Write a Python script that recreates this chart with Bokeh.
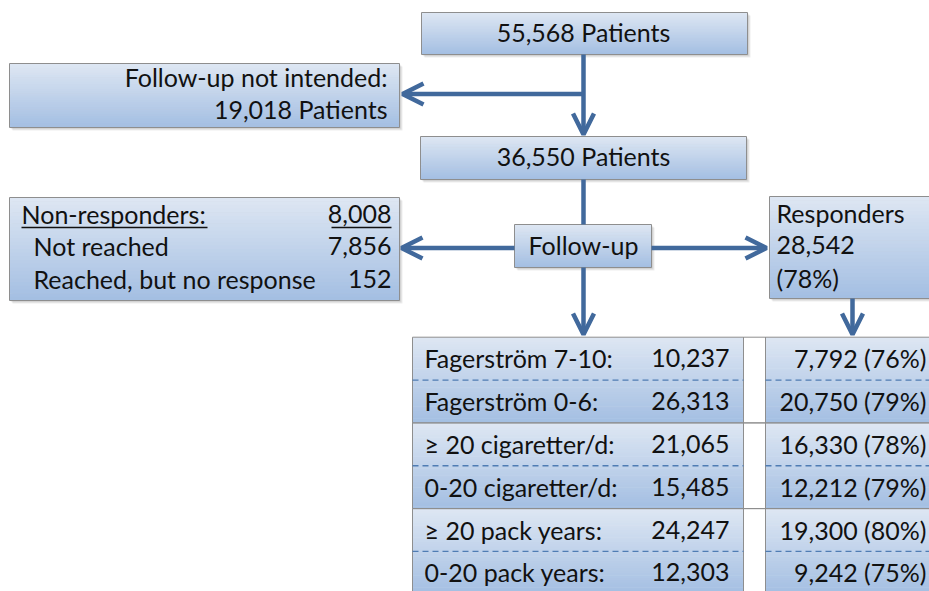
import numpy as np
from bokeh.plotting import figure
from bokeh.models import Range1d, ColumnDataSource, Arrow, OpenHead
from bokeh.core.properties import value
from bokeh.embed import file_html
from bokeh.resources import INLINE

# ---------------- data ----------------
total_patients = 55568
not_intended = 19018
followup_patients = 36550
non_responders_total = 8008
not_reached = 7856
reached_no_response = 152
responders_total = 28542
responders_pct = 78

row_labels = ["Fagerström 7-10:", "Fagerström 0-6:",
              "≥ 20 cigaretter/d:", "0-20 cigaretter/d:",
              "≥ 20 pack years:", "0-20 pack years:"]
row_totals = [10237, 26313, 21065, 15485, 24247, 12303]
row_responders = [7792, 20750, 16330, 12212, 19300, 9242]
row_pct = [76, 79, 78, 79, 80, 75]

# ---------------- style ----------------
FONT = value("Lato")
FS = "25px"
ARROW_C = "#41699c"
BORDER_C = "#8e8e8e"
TOP_C = np.array([222, 231, 243])
BOT_C = np.array([163, 190, 226])
DY = -2  # text vertical correction

W, H = 929, 591
p = figure(width=W, height=H, x_range=Range1d(0, W), y_range=Range1d(H, 0),
           output_backend="svg", toolbar_location=None, min_border=0,
           x_axis_type=None, y_axis_type=None)
p.grid.visible = False
p.outline_line_color = None
p.background_fill_color = "white"
p.border_fill_color = "white"

grad = dict(left=[], right=[], top=[], bottom=[], color=[])
shadow = dict(left=[], right=[], top=[], bottom=[])
border = dict(left=[], right=[], top=[], bottom=[])


def hexc(c):
    return "#%02x%02x%02x" % tuple(int(round(v)) for v in c)


def gbox(x0, y0, x1, y1, n=28, with_shadow=True):
    edges = np.linspace(y0, y1, n + 1)
    for i in range(n):
        t = (i + 0.5) / n
        grad["left"].append(x0)
        grad["right"].append(x1)
        grad["top"].append(edges[i])
        grad["bottom"].append(min(edges[i + 1] + 0.6, y1))
        grad["color"].append(hexc(TOP_C + (BOT_C - TOP_C) * t))
    if with_shadow:
        for d in (1.0, 2.0, 3.0):
            shadow["left"].append(x0 + d)
            shadow["right"].append(x1 + d)
            shadow["top"].append(y0 + d)
            shadow["bottom"].append(y1 + d)
    border["left"].append(x0)
    border["right"].append(x1)
    border["top"].append(y0)
    border["bottom"].append(y1)


# flowchart boxes
gbox(421, 12, 747, 54)          # total
gbox(9, 63, 399, 127)           # not intended
gbox(420, 136, 746, 179)        # follow-up patients
gbox(9, 197, 399, 300)          # non-responders
gbox(514, 224, 651, 267)        # follow-up
gbox(769, 196, 945, 298)        # responders

# table
tab_top = 336.7
row_h = 42.85
LX0, LX1, RX0, RX1 = 412, 743, 765, 945
n_groups = len(row_labels) // 2
for g in range(n_groups):
    y0 = tab_top + 2 * g * row_h
    y1 = y0 + 2 * row_h
    gbox(LX0, y0, LX1, y1, n=36, with_shadow=False)
    gbox(RX0, y0, RX1, y1, n=36, with_shadow=False)
    border["left"].append(LX1)
    border["right"].append(RX0)
    border["top"].append(y0)
    border["bottom"].append(y1)

p.quad(source=ColumnDataSource(shadow), left="left", right="right", top="top", bottom="bottom",
       fill_color="#000000", fill_alpha=0.07, line_color=None)
p.quad(source=ColumnDataSource(grad), left="left", right="right", top="top", bottom="bottom",
       fill_color="color", line_color=None)
p.quad(source=ColumnDataSource(border), left="left", right="right", top="top", bottom="bottom",
       fill_color=None, line_color=BORDER_C, line_width=1)

# dashed separators inside each group
dx0, dx1, dy = [], [], []
for g in range(n_groups):
    ym = tab_top + (2 * g + 1) * row_h
    for a, b in ((LX0, LX1), (RX0, RX1)):
        dx0.append(a); dx1.append(b); dy.append(ym)
p.segment(x0=dx0, x1=dx1, y0=dy, y1=dy, line_color="#4f7cb3", line_width=1.3, line_dash="6 4")

# connector lines
p.segment(x0=[583], x1=[583], y0=[179], y1=[224], line_color=ARROW_C, line_width=4.5)


def arrow(xs, ys, xe, ye):
    p.add_layout(Arrow(x_start=xs, y_start=ys, x_end=xe, y_end=ye,
                       line_color=ARROW_C, line_width=4.5,
                       end=OpenHead(size=21, line_color=ARROW_C, line_width=4.5)))


arrow(583, 54, 583, 134)
arrow(583, 93.5, 402, 93.5)
arrow(514, 247.5, 401, 247.5)
arrow(651, 247.5, 766, 247.5)
arrow(583, 267, 583, 334)
arrow(852, 298, 852, 334)

# ---------------- text ----------------
def txt(xs, ys, texts, align):
    p.text(x=xs, y=[y + DY for y in ys], text=texts, text_font=FONT, text_font_size=FS,
           text_align=align, text_baseline="middle", text_color="#111111")


txt([583, 583, 583],
    [33, 157, 246],
    [f"{total_patients:,} Patients", f"{followup_patients:,} Patients", "Follow-up"], "center")

txt([387, 387, 391, 391, 391],
    [78, 110, 215, 247, 280],
    ["Follow-up not intended:", f"{not_intended:,} Patients",
     f"{non_responders_total:,}", f"{not_reached:,}", f"{reached_no_response:,}"], "right")

txt([21, 33, 33, 776, 776, 776],
    [215, 247, 280, 214, 246, 279],
    ["Non-responders:", "Not reached", "Reached, but no response",
     "Responders", f"{responders_total:,}", f"({responders_pct}%)"], "left")

row_y = [tab_top + (i + 0.5) * row_h + 1.5 for i in range(len(row_labels))]
txt([424] * len(row_labels), row_y, row_labels, "left")
txt([729] * len(row_labels), row_y, [f"{v:,}" for v in row_totals], "right")
txt([926] * len(row_labels), row_y,
    [f"{v:,} ({q}%)" for v, q in zip(row_responders, row_pct)], "right")

# underlines
p.segment(x0=[21, 331], x1=[207, 391], y0=[227, 227], y1=[227, 227],
          line_color="#111111", line_width=1.3)

open("out.html", "w").write(file_html(p, INLINE))
